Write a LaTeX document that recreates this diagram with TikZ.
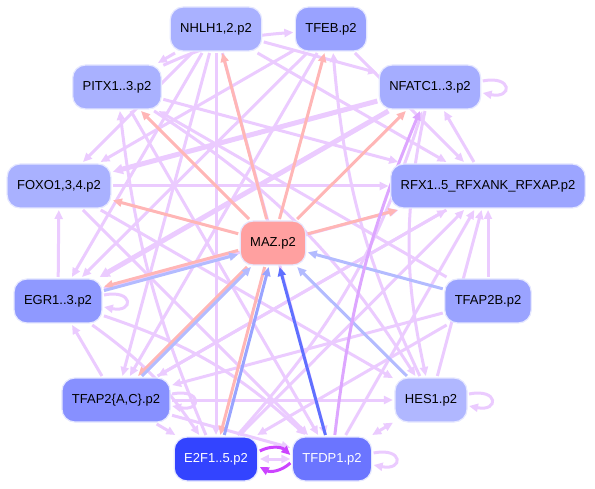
\documentclass[tikz,border=0pt]{standalone}
\usepackage{fontspec}
\setmainfont{Liberation Sans}
\usetikzlibrary{arrows.meta,backgrounds}

% node fills
\definecolor{cNhlh}{HTML}{A9B1FF}
\definecolor{cTfeb}{HTML}{99A2FF}
\definecolor{cPitx}{HTML}{A9B1FF}
\definecolor{cNfatc}{HTML}{A5ADFF}
\definecolor{cFoxo}{HTML}{A9B1FF}
\definecolor{cRfx}{HTML}{9CA5FF}
\definecolor{cMaz}{HTML}{FFA0A0}
\definecolor{cEgr}{HTML}{8F99FF}
\definecolor{cTfapb}{HTML}{9AA3FF}
\definecolor{cTfapac}{HTML}{8790FF}
\definecolor{cHes}{HTML}{B0B7FF}
\definecolor{cEtwo}{HTML}{3344FF}
\definecolor{cTfdp}{HTML}{6B75FF}
\definecolor{cRim}{HTML}{E6E8FF}
% edge colours
\definecolor{cLav}{HTML}{EBCBFF}
\definecolor{cSal}{HTML}{FFB6B6}
\definecolor{cPale}{HTML}{B3BBFF}
\definecolor{cMid}{HTML}{99A4FF}
\definecolor{cDeep}{HTML}{6070FF}
\definecolor{cPurp}{HTML}{CC44FF}
\definecolor{cMauve}{HTML}{DDA6FF}

\tikzset{
  tf/.style={rectangle, rounded corners=13pt, minimum height=44pt, inner xsep=10pt,
    draw=cRim, line width=1.2pt, outer sep=2pt, font=\fontsize{13}{15}\selectfont},
  tip/.style={-{Triangle[length=9pt,width=8pt]}},
  lav/.style={draw=cLav, line width=3pt, tip},
  lavw/.style={draw=cLav, line width=5pt, -{Triangle[length=10pt,width=10pt]}},
  sal/.style={draw=cSal, line width=3pt, tip},
  pale/.style={draw=cPale, line width=3pt, tip},
  selfloop/.style={draw=cLav, line width=3pt, tip}
}

\begin{document}
\begin{tikzpicture}[x=1pt, y=-1pt]
  \useasboundingbox (0,0) rectangle (595,489);

  % Draw nodes
  \node[tf, fill=cNhlh] (nhlh) at (216,29) {NHLH1,2.p2};
  \node[tf, fill=cTfeb] (tfeb) at (331,29) {TFEB.p2};
  \node[tf, fill=cPitx] (pitx) at (117,87) {PITX1..3.p2};
  \node[tf, fill=cNfatc] (nfatc) at (430,87) {NFATC1..3.p2};
  \node[tf, fill=cFoxo] (foxo) at (59,186) {FOXO1,3,4.p2};
  \node[tf, fill=cRfx] (rfx) at (488,186) {RFX1..5\_RFXANK\_RFXAP.p2};
  \node[tf, fill=cMaz] (maz) at (273,243) {MAZ.p2};
  \node[tf, fill=cEgr] (egr) at (58,301) {EGR1..3.p2};
  \node[tf, fill=cTfapb] (tfapb) at (488,301) {TFAP2B.p2};
  \node[tf, fill=cTfapac] (tfapac) at (116,400) {TFAP2\{A,C\}.p2};
  \node[tf, fill=cHes] (hes) at (431,400) {HES1.p2};
  \node[tf, fill=cEtwo, text=white] (etwo) at (216,459) {E2F1..5.p2};
  \node[tf, fill=cTfdp, text=white] (tfdp) at (332,459) {TFDP1.p2};

  \begin{pgfonlayer}{background}
    % Lavender links
    \draw[lav] (nhlh) -- (pitx);
    \draw[lav] (nhlh) -- (nfatc);
    \draw[lav] (nhlh) -- (rfx);
    \draw[lav] (nhlh) -- (foxo);
    \draw[lav] (nhlh) -- (egr);
    \draw[lav] (nhlh) -- (tfapac);
    \draw[lav] (nhlh) -- (etwo);
    \draw[lav] (nhlh) -- (tfdp);
    \draw[lav] (pitx) to[bend left=10] (tfeb);
    \draw[lav] (pitx) -- (rfx);
    \draw[lav] (pitx) to[bend left=12] (hes);
    \draw[lav] (pitx) -- (tfdp);
    \draw[lav] (tfeb) -- (egr);
    \draw[lav] (tfeb) -- (tfapac);
    \draw[lav] (tfeb) -- (rfx);
    \draw[lav] (tfeb) -- (foxo);
    \draw[lavw] (nfatc) -- (foxo);
    \draw[lavw] (nfatc) -- (egr);
    \draw[lav] (rfx) -- (nfatc);
    \draw[lav] (nfatc) to[bend right=12] (hes);
    \draw[lav] (foxo) -- (rfx);
    \draw[lav] (foxo) -- (tfdp);
    \draw[lav] (foxo) -- (hes);
    \draw[lav] (egr) -- (foxo);
    \draw[lav] (tfapac) -- (egr);
    \draw[lav] (etwo) to[bend left=8] (pitx);
    \draw[lav] (egr) to[bend left=10] (etwo);
    \draw[lav] (egr) to[bend left=12] (tfdp);
    \draw[lav] (egr) -- (rfx);
    \draw[lav] (rfx) -- (tfapac);
    \draw[lav] (tfapac) -- (etwo);
    \draw[lav] (tfapac) -- (hes);
    \draw[lav] (tfapac) -- (tfdp);
    \draw[lav] (tfapac) -- (rfx);
    \draw[lav] (tfapb) -- (rfx);
    \draw[lav] (tfapb) -- (etwo);
    \draw[lav] (tfapb) -- (tfapac);
    \draw[lav] (tfapb) -- (pitx);
    \draw[lav] (etwo) -- (rfx);
    \draw[lav] (tfdp) -- (rfx);
    \draw[lav] (hes) -- (rfx);
    \draw[lav] (etwo) to[bend right=12] (nfatc);
    \draw[lav] (hes) to[bend left=10] (tfeb);
    \draw[lav, {Triangle[length=9pt,width=8pt]}-{Triangle[length=9pt,width=8pt]}] (tfdp) -- (hes);
    \draw[lav, {Triangle[length=9pt,width=8pt]}-{Triangle[length=9pt,width=8pt]}] (etwo) -- (tfdp);

    % Self loops
    \draw[selfloop] ([yshift=6pt]nfatc.east) .. controls +(30pt,6pt) and +(30pt,-6pt) .. ([yshift=-6pt]nfatc.east);
    \draw[selfloop] ([yshift=6pt]egr.east) .. controls +(30pt,6pt) and +(30pt,-6pt) .. ([yshift=-6pt]egr.east);
    \draw[selfloop] ([yshift=6pt]tfapac.east) .. controls +(30pt,6pt) and +(30pt,-6pt) .. ([yshift=-6pt]tfapac.east);
    \draw[selfloop] ([yshift=6pt]hes.east) .. controls +(30pt,6pt) and +(30pt,-6pt) .. ([yshift=-6pt]hes.east);
    \draw[selfloop] ([yshift=6pt]tfdp.east) .. controls +(30pt,6pt) and +(30pt,-6pt) .. ([yshift=-6pt]tfdp.east);

    % MAZ targets
    \draw[sal] (maz) -- (nhlh);
    \draw[sal] (maz) -- (tfeb);
    \draw[sal] (maz) -- (pitx);
    \draw[sal] (maz) -- (nfatc);
    \draw[sal] (maz) -- (foxo);
    \draw[sal] (maz) -- (rfx);
    \draw[sal, transform canvas={yshift=2pt}] (maz) -- (egr);
    \draw[sal, transform canvas={xshift=-2pt}] (maz) -- (tfapac);
    \draw[sal, transform canvas={xshift=-2pt}] (maz) -- (etwo);

    % MAZ sources
    \draw[pale, transform canvas={yshift=-2pt}] (egr) -- (maz);
    \draw[pale, transform canvas={xshift=2pt}] (tfapac) -- (maz);
    \draw[draw=cMid, line width=3pt, tip, transform canvas={xshift=2pt}] (etwo) -- (maz);
    \draw[draw=cDeep, line width=3pt, tip] (tfdp) -- (maz);
    \draw[pale] (tfapb) -- (maz);
    \draw[pale] (hes) -- (maz);

    % E2F / TFDP1 pair
    \draw[draw=cPurp, line width=3pt, tip] ([yshift=8pt]etwo.east) to[bend left=35] ([yshift=4pt]tfdp.west);
    \draw[draw=cPurp, line width=3pt, tip] ([yshift=-4pt]tfdp.west) to[bend left=35] ([yshift=-8pt]etwo.east);
    \draw[draw=cMauve, line width=3pt, tip] (tfdp) to[bend left=8] (nfatc);
  \end{pgfonlayer}
\end{tikzpicture}
\end{document}
